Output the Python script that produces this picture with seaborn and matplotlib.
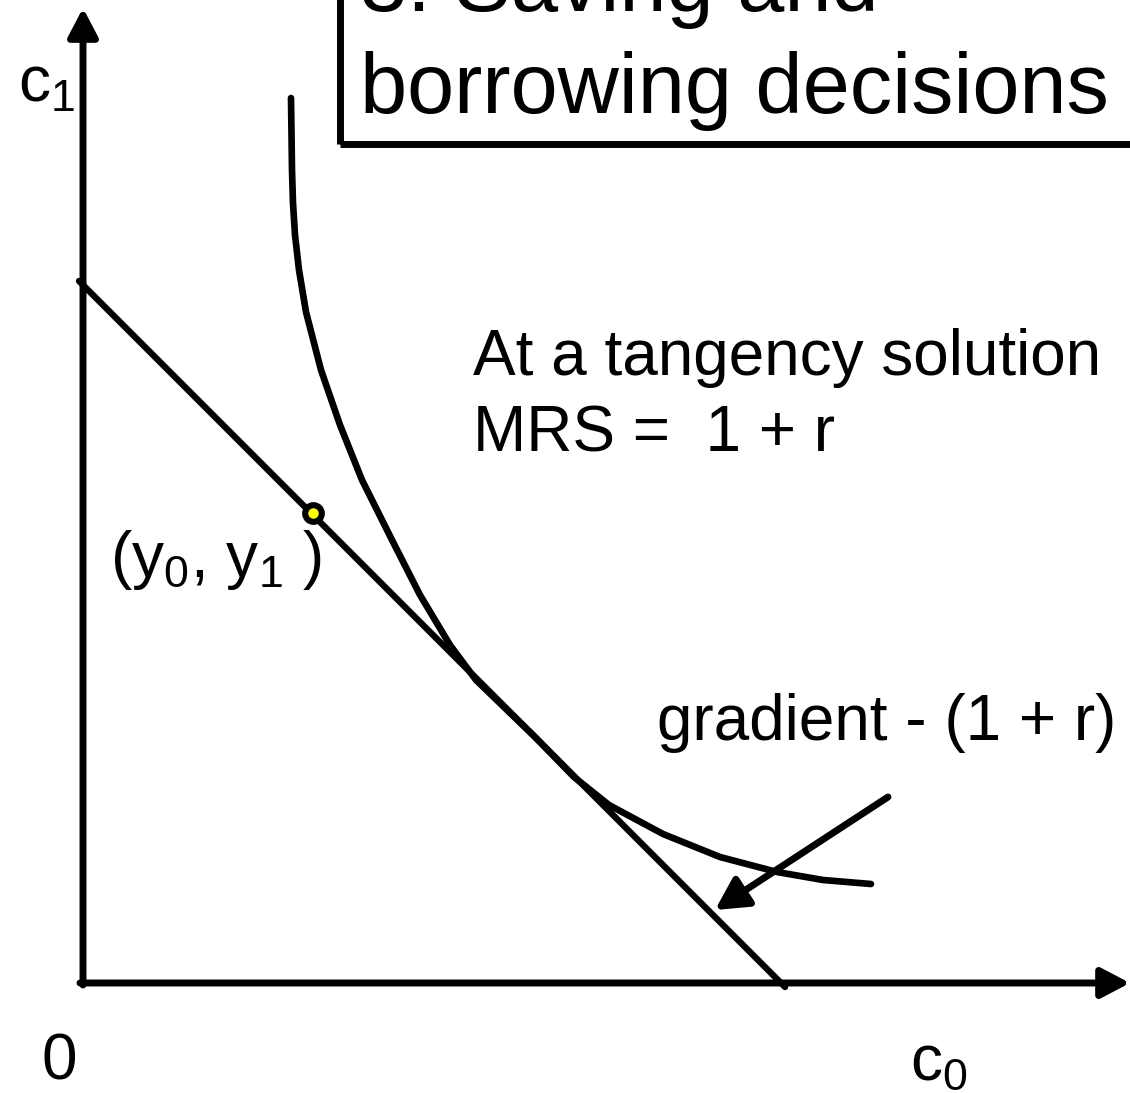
import numpy as np
import pandas as pd
import matplotlib
matplotlib.use("Agg")
import matplotlib.pyplot as plt
from matplotlib.patches import Rectangle
import seaborn as sns

# indifference curve (origin of the diagram = 0,0)
curve_c0 = [208, 209, 210, 212, 216, 223, 238, 257, 279, 309, 337, 367, 393, 424,
            452, 491, 526, 580, 637, 694, 740, 788]
curve_c1 = [885, 813, 780, 748, 713, 671, 613, 558, 503, 443, 388, 338, 303, 273,
            246, 206, 178, 149, 126, 111, 103, 99]

# budget line
budget_c0 = [-4, 702]
budget_c1 = [702, -4]

# endowment point
endow_c0 = [230]
endow_c1 = [470]

axis_len_x = 1047
axis_len_y = 975

title_lines = ["3. Saving and", "borrowing decisions"]
note_lines = ["At a tangency solution", "MRS =  1 + r"]
grad_label = "gradient - (1 + r)"
arrow_from = (805, 186)
arrow_to = (632, 73)

sns.set_style("white")
plt.rcParams["font.family"] = ["Liberation Sans", "DejaVu Sans"]
plt.rcParams["mathtext.default"] = "regular"
plt.rcParams["text.color"] = "black"

fig = plt.figure(figsize=(11.3, 10.93), dpi=100)
ax = fig.add_axes([0, 0, 1, 1])
ax.set_xlim(-83, 1047)
ax.set_ylim(-110, 983)
ax.axis("off")

head = "-|>,head_length=0.4,head_width=0.21"
# axes with arrow heads
ax.annotate("", xy=(0, axis_len_y), xytext=(0, -2),
            arrowprops=dict(arrowstyle=head, lw=5, color="black",
                            mutation_scale=43, shrinkA=0, shrinkB=0))
ax.annotate("", xy=(axis_len_x, 0), xytext=(-3, 0),
            arrowprops=dict(arrowstyle=head, lw=5, color="black",
                            mutation_scale=43, shrinkA=0, shrinkB=0))

budget = pd.DataFrame({"c0": budget_c0, "c1": budget_c1})
sns.lineplot(data=budget, x="c0", y="c1", ax=ax, color="black", lw=4.6, sort=False)

ic = pd.DataFrame({"c0": curve_c0, "c1": curve_c1})
sns.lineplot(data=ic, x="c0", y="c1", ax=ax, color="black", lw=4.8, sort=False)
ax.lines[-1].set_solid_joinstyle("round")

ax.plot(endow_c0, endow_c1, "o", ms=12, mfc="yellow", mec="black", mew=4.4, zorder=5)

# title box, cut by the top/right edges
ax.add_patch(Rectangle((257, 839), 1000, 400, fill=False, lw=5, ec="black", clip_on=False))
ax.text(277, 870, title_lines[1], fontsize=61, ha="left", va="baseline")
ax.text(277, 972, title_lines[0], fontsize=61, ha="left", va="baseline")

ax.text(-65, 881, "c$_1$", fontsize=46, ha="left", va="baseline")
ax.text(-41, -97, "0", fontsize=46, ha="left", va="baseline")
ax.text(827, -97, "c$_0$", fontsize=46, ha="left", va="baseline")
ax.text(27, 406, "(y$_0$, y$_1$ )", fontsize=46, ha="left", va="baseline")

ax.text(390, 608, note_lines[0], fontsize=46, ha="left", va="baseline")
ax.text(390, 531, note_lines[1], fontsize=46, ha="left", va="baseline")
ax.text(574, 243, grad_label, fontsize=46, ha="left", va="baseline")

ax.annotate("", xy=arrow_to, xytext=arrow_from,
            arrowprops=dict(arrowstyle="-|>,head_length=0.45,head_width=0.24", lw=5,
                            color="black", mutation_scale=43, shrinkA=0, shrinkB=0))

fig.savefig("out.png", dpi=100)
